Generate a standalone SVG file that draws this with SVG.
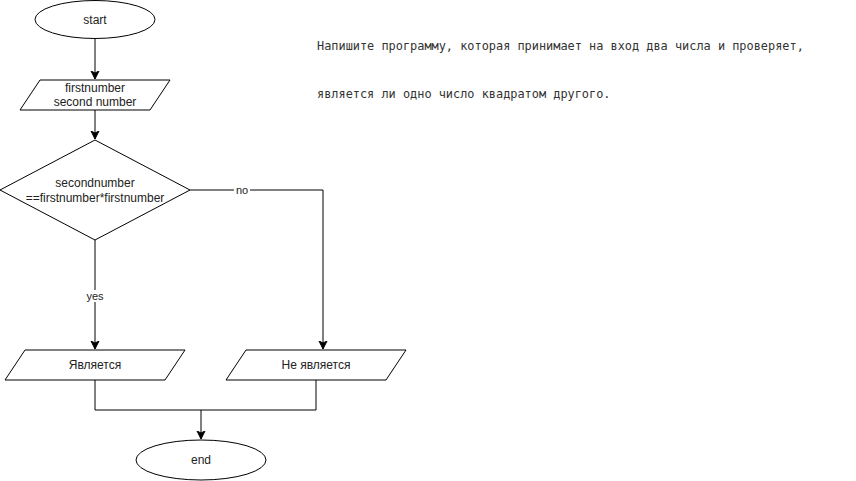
<svg xmlns="http://www.w3.org/2000/svg" width="856" height="481" viewBox="0 0 856 481">
<defs>
<marker id="arr" markerWidth="10" markerHeight="10" refX="8" refY="5" orient="auto" markerUnits="userSpaceOnUse">
<path d="M0,1 L8,5 L0,9 L2,5 Z" fill="#000" stroke="#000" stroke-width="1"/>
</marker>
<style>
.shape{fill:#fff;stroke:#000;stroke-width:1}
.t{font-family:"Liberation Sans",Arial,sans-serif;font-size:12px;fill:#222;text-anchor:middle;dominant-baseline:central}
.lbl{font-family:"Liberation Sans",Arial,sans-serif;font-size:11px;fill:#222;text-anchor:middle;dominant-baseline:central}
.edge{fill:none;stroke:#000;stroke-width:1}
.mono{font-family:"DejaVu Sans Mono","Liberation Mono",monospace;font-size:11.9px;fill:#333}
</style>
</defs>
<rect width="856" height="481" fill="#fff"/>
<g id="connectors">
<path class="edge" d="M95,39 V79" marker-end="url(#arr)"/>
<path class="edge" d="M95,110 V139" marker-end="url(#arr)"/>
<path class="edge" d="M190,190 H323 V349" marker-end="url(#arr)"/>
<path class="edge" d="M95,240 V349" marker-end="url(#arr)"/>
<path class="edge" d="M95,380 V410 H316 V380"/>
<path class="edge" d="M201,410 V439" marker-end="url(#arr)"/>
<rect x="234" y="184" width="16" height="12" fill="#fff"/>
<text class="lbl" x="242" y="190">no</text>
<rect x="85" y="290" width="21" height="12" fill="#fff"/>
<text class="lbl" x="95" y="296">yes</text>
</g>
<g id="start">
<ellipse class="shape" cx="95" cy="19.5" rx="60" ry="19"/>
<text class="t" x="95" y="19.5">start</text>
</g>
<g id="input">
<polygon class="shape" points="40,80 170,80 150,110 20,110"/>
<text class="t" x="95" y="88">firstnumber</text>
<text class="t" x="95" y="102">second number</text>
</g>
<g id="decision">
<polygon class="shape" points="95,140 190,190 95,240 0,190"/>
<text class="t" x="95" y="183">secondnumber</text>
<text class="t" x="95" y="198">==firstnumber*firstnumber</text>
</g>
<g id="yes-out">
<polygon class="shape" points="25,350 185,350 165,380 5,380"/>
<text class="t" x="95" y="365">Является</text>
</g>
<g id="no-out">
<polygon class="shape" points="246,350 406,350 386,380 226,380"/>
<text class="t" x="316" y="365">Не является</text>
</g>
<g id="end">
<ellipse class="shape" cx="201" cy="460" rx="65" ry="20"/>
<text class="t" x="201" y="460">end</text>
</g>
<g id="task">
<text class="mono" x="317" y="50">Напишите программу, которая принимает на вход два числа и проверяет,</text>
<text class="mono" x="317" y="98">является ли одно число квадратом другого.</text>
</g>
</svg>
